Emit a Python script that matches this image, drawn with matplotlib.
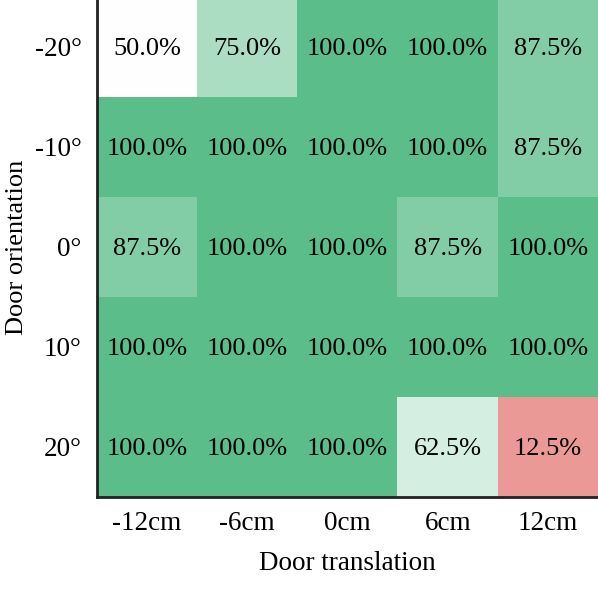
import matplotlib
matplotlib.use("Agg")
import matplotlib.pyplot as plt
import numpy as np
from matplotlib.colors import LinearSegmentedColormap

plt.rcParams['font.family'] = ['Liberation Serif', 'DejaVu Serif']

translations = ["-12cm", "-6cm", "0cm", "6cm", "12cm"]
orientations = ["-20°", "-10°", "0°", "10°", "20°"]
success = np.array([
    [50.0, 75.0, 100.0, 100.0, 87.5],
    [100.0, 100.0, 100.0, 100.0, 87.5],
    [87.5, 100.0, 100.0, 87.5, 100.0],
    [100.0, 100.0, 100.0, 100.0, 100.0],
    [100.0, 100.0, 100.0, 62.5, 12.5],
])

cmap = LinearSegmentedColormap.from_list("rwg", ["#E37873", "#FFFFFF", "#5ABD8A"])

fig = plt.figure(figsize=(5.98, 5.93), dpi=100)
ax = fig.add_axes([97/598, 96/593, 501/598, 500/593])
ax.imshow(success, cmap=cmap, vmin=0, vmax=100, aspect='auto')

fs = 19.5
for i in range(success.shape[0]):
    for j in range(success.shape[1]):
        ax.text(j, i + 0.02, f"{success[i, j]:.1f}%", ha='center', va='center', fontsize=19, color='black')

ax.set_xticks(range(len(translations)))
ax.set_xticklabels(translations, fontsize=fs)
ax.set_yticks(range(len(orientations)))
ax.set_yticklabels(orientations, fontsize=fs)
ax.tick_params(axis='y', length=0, pad=11)
ax.tick_params(axis='x', length=0, pad=10)
ax.set_xlabel("Door translation", fontsize=fs, labelpad=11)
ax.set_ylabel("Door orientation", fontsize=19)
ax.yaxis.set_label_coords(-0.138, 0.5)

for s in ['top', 'right']:
    ax.spines[s].set_visible(False)
for s in ['left', 'bottom']:
    ax.spines[s].set_linewidth(2)
    ax.spines[s].set_color('#222222')

fig.savefig("out.png", dpi=100)
